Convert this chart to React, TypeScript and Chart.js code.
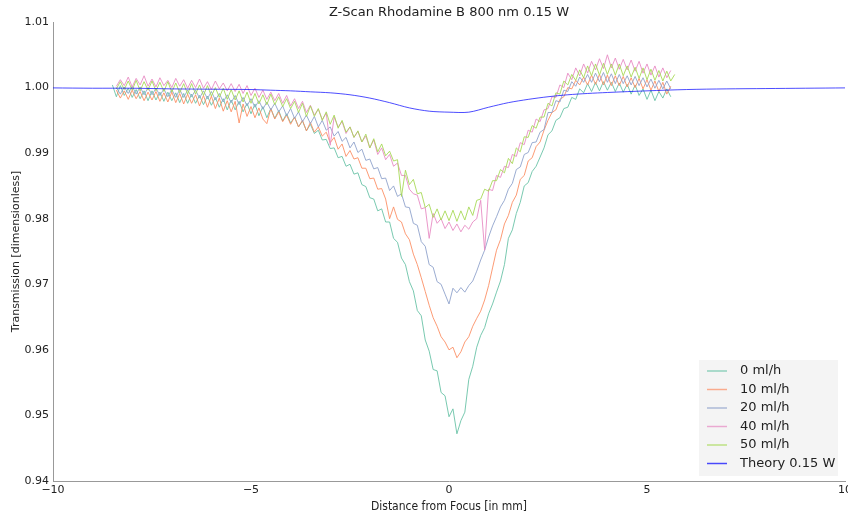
import React, { useEffect, useRef } from "react";
import { Chart, registerables } from "chart.js";

Chart.register(...registerables);

const chartTitle = "Z-Scan Rhodamine B 800 nm 0.15 W";
const xTitle = "Distance from Focus [in mm]";
const yTitle = "Transmission [dimensionless]";

const xTicks = [-10, -5, 0, 5, 10];
const yTicks = [0.94, 0.95, 0.96, 0.97, 0.98, 0.99, 1.0, 1.01];

const seriesNames = ["0 ml/h", "10 ml/h", "20 ml/h", "40 ml/h", "50 ml/h"];
const theoryName = "Theory 0.15 W";

const distance = [
  -8.5, -8.4, -8.3, -8.2, -8.1, -8.0, -7.9, -7.8, -7.7, -7.6,
  -7.5, -7.4, -7.3, -7.2, -7.1, -7.0, -6.9, -6.8, -6.7, -6.6,
  -6.5, -6.4, -6.3, -6.2, -6.1, -6.0, -5.9, -5.8, -5.7, -5.6,
  -5.5, -5.4, -5.3, -5.2, -5.1, -5.0, -4.9, -4.8, -4.7, -4.6,
  -4.5, -4.4, -4.3, -4.2, -4.1, -4.0, -3.9, -3.8, -3.7, -3.6,
  -3.5, -3.4, -3.3, -3.2, -3.1, -3.0, -2.9, -2.8, -2.7, -2.6,
  -2.5, -2.4, -2.3, -2.2, -2.1, -2.0, -1.9, -1.8, -1.7, -1.6,
  -1.5, -1.4, -1.3, -1.2, -1.1, -1.0, -0.9, -0.8, -0.7, -0.6,
  -0.5, -0.4, -0.3, -0.2, -0.1, 0.0, 0.1, 0.2, 0.3, 0.4,
  0.5, 0.6, 0.7, 0.8, 0.9, 1.0, 1.1, 1.2, 1.3, 1.4,
  1.5, 1.6, 1.7, 1.8, 1.9, 2.0, 2.1, 2.2, 2.3, 2.4,
  2.5, 2.6, 2.7, 2.8, 2.9, 3.0, 3.1, 3.2, 3.3, 3.4,
  3.5, 3.6, 3.7, 3.8, 3.9, 4.0, 4.1, 4.2, 4.3, 4.4,
  4.5, 4.6, 4.7, 4.8, 4.9, 5.0, 5.1, 5.2, 5.3, 5.4,
  5.5, 5.6, 5.7,
];

const flow0 = [
  1.0004, 0.9986, 1.0003, 0.9988, 0.9999, 0.9985, 0.9997, 0.9983, 0.9995, 0.998,
  0.9995, 0.9981, 0.9993, 0.9979, 0.9993, 0.998, 0.9992, 0.9977, 0.9991, 0.9976,
  0.999, 0.9976, 0.9988, 0.9974, 0.9987, 0.9973, 0.9985, 0.997, 0.9983, 0.9966,
  0.9981, 0.9966, 0.9979, 0.9963, 0.9976, 0.996, 0.9975, 0.9957, 0.9971, 0.9954,
  0.9968, 0.9953, 0.9965, 0.9949, 0.996, 0.9946, 0.9955, 0.994, 0.9949, 0.9934,
  0.9944, 0.993, 0.9935, 0.992, 0.9921, 0.9907, 0.9908, 0.9893, 0.9895, 0.988,
  0.9883, 0.9868, 0.987, 0.9852, 0.9849, 0.9832, 0.983, 0.9812, 0.9815, 0.9795,
  0.9795, 0.977, 0.9764, 0.974, 0.973, 0.9704, 0.969, 0.966, 0.9652, 0.9615,
  0.9598, 0.957, 0.9568, 0.9535, 0.953, 0.9498, 0.951, 0.9472, 0.9492, 0.9505,
  0.9555, 0.9575, 0.9604, 0.9622, 0.9634, 0.9655, 0.967, 0.9688, 0.9705, 0.973,
  0.977, 0.9783, 0.9808, 0.9825, 0.985, 0.9855, 0.9872, 0.988, 0.9894, 0.9908,
  0.9928, 0.9934, 0.995, 0.9954, 0.9968, 0.997, 0.9985, 0.9982, 0.9998, 0.9992,
  1.0006, 0.9994, 1.0008, 0.9995, 1.0009, 0.9996, 1.0008, 0.9994, 1.0007, 0.9993,
  1.0005, 0.999, 1.0004, 0.9988, 0.9998, 0.9982, 0.9996, 0.998, 0.9994, 0.9984,
  0.9998, 0.9986, null,
];

const flow10 = [
  null, 0.9996, 0.9984, 0.9995, 0.9982, 0.9996, 0.9983, 0.9994, 0.998, 0.9993,
  0.9981, 0.9994, 0.9979, 0.9992, 0.9978, 0.9993, 0.9977, 0.9991, 0.9975, 0.999,
  0.9976, 0.9989, 0.9972, 0.9988, 0.997, 0.9987, 0.9968, 0.9984, 0.9964, 0.998,
  0.9963, 0.9979, 0.9946, 0.9975, 0.9956, 0.9971, 0.9954, 0.9969, 0.9952, 0.9945,
  0.9968, 0.9952, 0.9963, 0.9948, 0.9958, 0.9944, 0.9955, 0.994, 0.995, 0.9934,
  0.9947, 0.9932, 0.994, 0.9926, 0.9932, 0.9916, 0.9924, 0.9906, 0.9914, 0.9895,
  0.9904, 0.9891, 0.9893, 0.9877, 0.9877, 0.9861, 0.9862, 0.9845, 0.9846, 0.983,
  0.98, 0.9818, 0.9799, 0.9795, 0.9777, 0.9768, 0.9746, 0.973, 0.971, 0.9689,
  0.9668, 0.9649, 0.9636, 0.962, 0.9612, 0.96, 0.9604, 0.9588, 0.9597, 0.9612,
  0.962, 0.9636, 0.9648, 0.9659, 0.9676, 0.9698, 0.9725, 0.9752, 0.9768, 0.9792,
  0.9805, 0.9825, 0.9836, 0.986, 0.9866, 0.9888, 0.9893, 0.991, 0.9917, 0.9935,
  0.995, 0.9962, 0.9966, 0.9982, 0.9986, 1.0, 0.9998, 1.0011, 1.0004, 1.0016,
  1.0004, 1.0019, 1.0005, 1.002, 1.0004, 1.0019, 1.0003, 1.0018, 1.0003, 1.0017,
  1.0001, 1.0015, 1.0, 1.0014, 0.9998, 1.0012, 0.9996, 1.001, 0.9994, 1.0008,
  0.999, 1.0002, null,
];

const flow20 = [
  null, 1.0, 0.999, 1.0001, 0.9991, 1.0002, 0.999, 1.0001, 0.9989, 1.0,
  0.9989, 0.9999, 0.9988, 0.9998, 0.9986, 0.9997, 0.9985, 0.9997, 0.9985, 0.9996,
  0.9986, 0.9996, 0.9984, 0.9995, 0.9983, 0.9994, 0.9981, 0.9991, 0.9978, 0.9989,
  0.9977, 0.9988, 0.9974, 0.9985, 0.9972, 0.9983, 0.997, 0.998, 0.9967, 0.9978,
  0.9966, 0.9976, 0.9963, 0.9972, 0.9957, 0.9968, 0.9953, 0.9963, 0.9948, 0.9958,
  0.9945, 0.9956, 0.994, 0.995, 0.9935, 0.994, 0.9926, 0.9933, 0.9918, 0.9924,
  0.9908, 0.9917, 0.9901, 0.9906, 0.9889, 0.9891, 0.9876, 0.9878, 0.9861, 0.9862,
  0.9843, 0.985, 0.9834, 0.9838, 0.9818, 0.9817, 0.9793, 0.979, 0.9765, 0.9758,
  0.973, 0.9726, 0.9704, 0.97, 0.9685, 0.967, 0.9694, 0.9687, 0.9695, 0.9688,
  0.9698, 0.9705, 0.972, 0.9737, 0.9752, 0.9772, 0.9789, 0.9803, 0.9818, 0.9828,
  0.9845, 0.9854, 0.9875, 0.9879, 0.9898, 0.9901, 0.9916, 0.9917, 0.9932, 0.9936,
  0.9962, 0.9962, 0.998, 0.9978, 0.9996, 0.9994, 1.0009, 1.0002, 1.0016, 1.0008,
  1.002, 1.0008, 1.0022, 1.0009, 1.0023, 1.0008, 1.0021, 1.0006, 1.002, 1.0006,
  1.0018, 1.0004, 1.0017, 1.0003, 1.0015, 1.0001, 1.0013, 0.9999, 1.0011, 0.9998,
  1.001, 0.9998, null,
];

const flow40 = [
  null, 1.0002, 1.0012, 1.0003, 1.0016, 1.0001, 1.0014, 1.0004, 1.0018, 1.0002,
  1.0013, 1.0001, 1.0015, 1.0003, 1.0011, 1.0, 1.0014, 1.0002, 1.0012, 0.9999,
  1.0011, 1.0, 1.0013, 0.9999, 1.0009, 0.9997, 1.001, 0.9998, 1.0007, 0.9995,
  1.0006, 0.9994, 1.0005, 0.9991, 1.0003, 0.9988, 0.9999, 0.9985, 0.9996, 0.9982,
  0.9993, 0.998, 0.9991, 0.9976, 0.9988, 0.9972, 0.9983, 0.9968, 0.9979, 0.9962,
  0.9973, 0.9958, 0.9967, 0.9951, 0.9961, 0.9912, 0.9955, 0.994, 0.9948, 0.993,
  0.994, 0.9924, 0.9933, 0.9917, 0.9926, 0.9908, 0.992, 0.9898, 0.9908, 0.989,
  0.9898, 0.988, 0.9885, 0.9866, 0.9866, 0.9845, 0.9838, 0.9836, 0.9815, 0.9817,
  0.977, 0.9808, 0.9793, 0.98, 0.9785, 0.9795, 0.9782, 0.9792, 0.978, 0.979,
  0.9784, 0.9795, 0.98, 0.9828, 0.9752, 0.9845, 0.9843, 0.9866, 0.9863, 0.988,
  0.9878, 0.9898, 0.9895, 0.9916, 0.9913, 0.9935, 0.9932, 0.9952, 0.9948, 0.9966,
  0.9968, 0.9986, 0.9985, 1.0004, 1.0, 1.0022, 1.0012, 1.003, 1.0018, 1.0036,
  1.0022, 1.004, 1.0027, 1.0044, 1.0029, 1.005, 1.003, 1.0045, 1.0028, 1.0043,
  1.0027, 1.0042, 1.0025, 1.004, 1.0022, 1.0036, 1.0019, 1.0033, 1.0016, 1.003,
  1.0015, 1.0026, null,
];

const flow50 = [
  null, 0.9998, 1.0009, 0.9997, 1.001, 0.9996, 1.0011, 0.9995, 1.0009, 0.9996,
  1.001, 0.9995, 1.0008, 0.9994, 1.0009, 0.9993, 1.0007, 0.9992, 1.0006, 0.999,
  1.0006, 0.999, 1.0004, 0.9988, 1.0003, 0.9987, 1.0, 0.9985, 0.9999, 0.9982,
  0.9997, 0.9981, 0.9995, 0.9978, 0.9993, 0.9976, 0.9991, 0.9975, 0.9989, 0.9974,
  0.999, 0.9974, 0.9986, 0.9971, 0.9983, 0.9968, 0.9979, 0.9962, 0.9976, 0.9956,
  0.9972, 0.9956, 0.9968, 0.995, 0.9963, 0.9944, 0.9958, 0.9938, 0.995, 0.9932,
  0.994, 0.9924, 0.9934, 0.9917, 0.9929, 0.9908, 0.9922, 0.9902, 0.9914, 0.9896,
  0.9903, 0.9888, 0.989, 0.9834, 0.9874, 0.9852, 0.986, 0.9838, 0.984, 0.9817,
  0.9822, 0.9802, 0.9815, 0.9798, 0.9812, 0.9797, 0.9813, 0.9796, 0.9812, 0.9798,
  0.9818, 0.9805, 0.9828, 0.983, 0.9845, 0.9842, 0.9858, 0.9858, 0.9875, 0.987,
  0.9892, 0.9884, 0.9908, 0.9902, 0.9925, 0.9924, 0.9942, 0.9938, 0.9955, 0.9955,
  0.9976, 0.9972, 0.9992, 0.999, 1.001, 1.0004, 1.002, 1.0011, 1.0027, 1.0015,
  1.0033, 1.0018, 1.0036, 1.0019, 1.0037, 1.002, 1.0036, 1.0019, 1.0036, 1.0018,
  1.0033, 1.0016, 1.0031, 1.0014, 1.003, 1.0012, 1.0028, 1.0011, 1.0026, 1.001,
  1.0025, 1.001, 1.002,
];

const theoryX = [-10, -9, -8, -7, -6, -5, -4.5, -4, -3.5, -3, -2.5, -2, -1.5, -1, -0.5, 0, 0.5, 1, 1.5, 2, 2.5, 3, 3.5, 4, 5, 6, 7, 8, 9, 10];
const theoryY = [0.99995, 0.9999, 0.9999, 0.9998, 0.99975, 0.9997, 0.9996, 0.9995, 0.99935, 0.9992, 0.9989, 0.9984, 0.9977, 0.9969, 0.9964, 0.99625, 0.99625, 0.997, 0.9977, 0.9982, 0.9986, 0.9989, 0.9991, 0.99925, 0.9995, 0.9997, 0.9998, 0.99985, 0.9999, 0.99995];

const seriesColors = ["#66c2a5", "#fc8d62", "#8da0cb", "#e78ac3", "#a6d854"];
const theoryColor = "rgba(0,0,255,0.7)";

const seriesValues = [flow0, flow10, flow20, flow40, flow50];

function toPoints(xs: number[], ys: (number | null)[]) {
  const out: { x: number; y: number }[] = [];
  xs.forEach((x, i) => {
    const y = ys[i];
    if (y !== null && y !== undefined) out.push({ x, y });
  });
  return out;
}

const decorPlugin = {
  id: "decor",
  afterDraw(chart: any) {
    const ctx = chart.ctx;
    const area = chart.chartArea;
    ctx.save();
    ctx.fillStyle = "#222";
    ctx.font = "13px 'DejaVu Sans'";
    ctx.textAlign = "center";
    ctx.textBaseline = "middle";
    ctx.fillText(chartTitle, (area.left + area.right) / 2, 13);
    ctx.font = "12px 'DejaVu Sans Condensed', 'DejaVu Sans'";
    ctx.fillText(xTitle, (area.left + area.right) / 2, 507);
    ctx.save();
    ctx.translate(16, (area.top + area.bottom) / 2);
    ctx.rotate(-Math.PI / 2);
    ctx.font = "11px 'DejaVu Sans'";
    ctx.fillText(yTitle, 0, 0);
    ctx.restore();

    const bx = 699, by = 360, bw = 139, bh = 116;
    ctx.fillStyle = "rgba(242,242,242,0.85)";
    ctx.fillRect(bx, by, bw, bh);
    const names = [...seriesNames, theoryName];
    const cols = [...seriesColors, theoryColor];
    ctx.font = "13px 'DejaVu Sans'";
    ctx.textAlign = "left";
    ctx.textBaseline = "middle";
    names.forEach((n, i) => {
      const yy = 371 + i * 18.5;
      ctx.strokeStyle = cols[i];
      ctx.globalAlpha = i < 5 ? 0.7 : 1;
      ctx.lineWidth = 1.5;
      ctx.beginPath();
      ctx.moveTo(707, yy);
      ctx.lineTo(727, yy);
      ctx.stroke();
      ctx.globalAlpha = 1;
      ctx.fillStyle = "#222";
      ctx.fillText(n, 740, yy);
    });
    ctx.restore();
  },
};

export default function App() {
  const ref = useRef<HTMLCanvasElement | null>(null);
  useEffect(() => {
    if (!ref.current) return;
    const datasets: any[] = seriesValues.map((vals, i) => ({
      label: seriesNames[i],
      data: toPoints(distance, vals),
      borderColor: seriesColors[i] + "e0",
      backgroundColor: seriesColors[i],
      borderWidth: 1,
      pointRadius: 0,
      tension: 0,
      order: 5 - i,
    }));
    datasets.push({
      label: theoryName,
      data: toPoints(theoryX, theoryY),
      borderColor: theoryColor,
      backgroundColor: theoryColor,
      borderWidth: 1,
      pointRadius: 0,
      tension: 0.3,
      order: 0,
    });
    const chart = new Chart(ref.current, {
      type: "line",
      data: { datasets },
      options: {
        responsive: false,
        animation: false,
        layout: { padding: { left: 0, top: 22, right: 3, bottom: 0 } },
        plugins: {
          legend: { display: false },
          title: { display: false },
          tooltip: { enabled: false },
        },
        scales: {
          x: {
            type: "linear",
            min: -10,
            max: 10,
            afterBuildTicks: (scale: any) => {
              scale.ticks = xTicks.map((v) => ({ value: v }));
            },
            afterFit: (scale: any) => {
              scale.height = 39;
              scale.paddingLeft = 0;
              scale.paddingRight = 0;
            },
            grid: { display: false, drawTicks: false },
            border: { display: true, color: "#999", width: 1 },
            ticks: {
              padding: 3,
              color: "#222",
              font: { family: "'DejaVu Sans'", size: 11 },
              maxRotation: 0,
              callback: (v: any) => (Number(v) < 0 ? "\u2212" + Math.abs(Number(v)) : String(v)),
            },
          },
          y: {
            type: "linear",
            min: 0.94,
            max: 1.01,
            afterBuildTicks: (scale: any) => {
              scale.ticks = yTicks.map((v) => ({ value: v }));
            },
            afterFit: (scale: any) => {
              scale.width = 53;
              scale.paddingTop = 0;
              scale.paddingBottom = 0;
            },
            grid: { display: false, drawTicks: false },
            border: { display: true, color: "#999", width: 1 },
            ticks: {
              padding: 4,
              color: "#222",
              font: { family: "'DejaVu Sans'", size: 11 },
              callback: (v: any) => Number(v).toFixed(2),
            },
          },
        },
      },
      plugins: [decorPlugin],
    });
    return () => chart.destroy();
  }, []);
  return (
    <div style={{ position: "fixed", left: 0, top: 0, width: 848, height: 520, background: "#fff" }}>
      <canvas ref={ref} width={848} height={520} style={{ display: "block" }} />
    </div>
  );
}
